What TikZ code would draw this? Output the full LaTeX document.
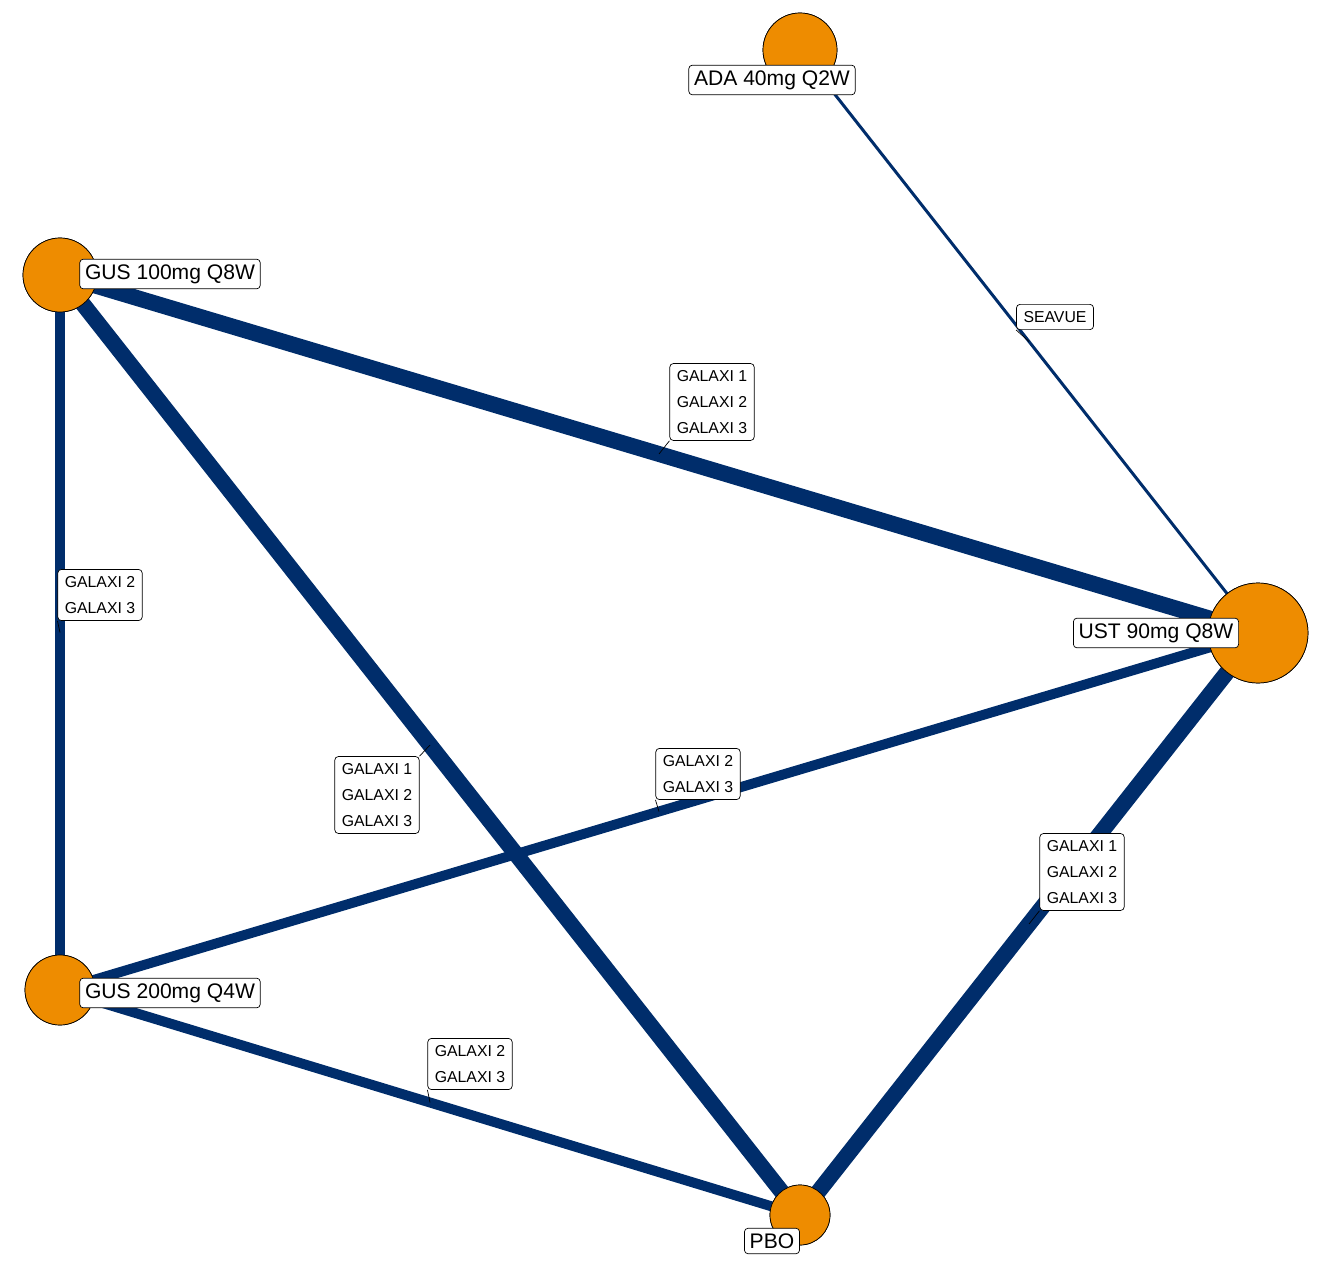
\documentclass[tikz,border=0pt]{standalone}
\usepackage{fontspec}
\setmainfont{Liberation Sans}
\usetikzlibrary{calc}
\definecolor{navy}{HTML}{002D6B}
\definecolor{drug}{HTML}{EE8C00}
\tikzset{ trt/.style = { circle % treatment
        , draw = black
        , thin
        , fill = drug
        , inner sep = 0pt
        }
        , lab/.style = { rectangle % treatment label
        , draw = black
        , fill = white
        , rounded corners = 2pt
        , font = \fontsize{12}{14}\selectfont
        , inner sep = 3pt
        }
        , study/.style = { rectangle % study label
        , draw = black
        , fill = white
        , rounded corners = 2pt
        , align = left
        , font = \fontsize{9}{14.7}\selectfont
        , inner sep = 4pt
        }
        }

\begin{document}
\begin{tikzpicture}[x=0.02cm, y=-0.02cm,
        edge_style/.style={draw=navy},
        tick_style/.style={draw=black, thin}]
        \useasboundingbox (0,0) rectangle (1320,1274);
        \begin{scope}
        \clip (0,0) rectangle (1320,1274);
        \node [trt, minimum size=74*0.02cm] (ada) at (800,50) {};
        \end{scope}
        \node [trt, minimum size=74*0.02cm] (gus1) at (60,275) {};
        \node [trt, minimum size=100*0.02cm] (ust) at (1258,633) {};
        \node [trt, minimum size=70*0.02cm] (gus2) at (60,990) {};
        \node [trt, minimum size=60*0.02cm] (pbo) at (800,1215) {};

        \draw [edge_style, line width=3pt*0.567] (ada.center) -- coordinate[pos=.5] (e1) (ust.center);
        \draw [edge_style, line width=16pt*0.567] (gus1.center) -- coordinate[pos=.5] (e2) (ust.center);
        \draw [edge_style, line width=10pt*0.567] (gus1.center) -- coordinate[pos=.5] (e3) (gus2.center);
        \draw [edge_style, line width=16pt*0.567] (gus1.center) -- coordinate[pos=.5] (e4) (pbo.center);
        \draw [edge_style, line width=10pt*0.567] (gus2.center) -- coordinate[pos=.5] (e5) (ust.center);
        \draw [edge_style, line width=16pt*0.567] (ust.center) -- coordinate[pos=.5] (e6) (pbo.center);
        \draw [edge_style, line width=10pt*0.567] (gus2.center) -- coordinate[pos=.5] (e7) (pbo.center);

        % redraw circles above edges
        \begin{scope}
        \clip (0,0) rectangle (1320,1274);
        \node [trt, minimum size=74*0.02cm] at (800,50) {};
        \end{scope}
        \node [trt, minimum size=74*0.02cm] at (60,275) {};
        \node [trt, minimum size=100*0.02cm] at (1258,633) {};
        \node [trt, minimum size=70*0.02cm] at (60,990) {};
        \node [trt, minimum size=60*0.02cm] at (800,1215) {};

        \node [study] (s1) at (1055,317) {SEAVUE};
        \node [study] (s2) at (712,402) {GALAXI 1\\GALAXI 2\\GALAXI 3};
        \node [study] (s3) at (100,595) {GALAXI 2\\GALAXI 3};
        \node [study] (s4) at (377,795) {GALAXI 1\\GALAXI 2\\GALAXI 3};
        \node [study] (s5) at (698,774) {GALAXI 2\\GALAXI 3};
        \node [study] (s6) at (1082,872) {GALAXI 1\\GALAXI 2\\GALAXI 3};
        \node [study] (s7) at (470,1064) {GALAXI 2\\GALAXI 3};
        \draw [tick_style] (e1) -- (s1.south west);
        \draw [tick_style] (e2) -- (s2.south west);
        \draw [tick_style] (e3) -- (s3.south west);
        \draw [tick_style] (e4) -- (s4.north east);
        \draw [tick_style] (e5) -- (s5.south west);
        \draw [tick_style] (e6) -- (s6.south west);
        \draw [tick_style] (e7) -- (s7.south west);

        \node [lab] (l1) at (772,80) {ADA 40mg Q2W};
        \node [lab] (l2) at (170,274) {GUS 100mg Q8W};
        \node [lab] (l3) at (1156,633) {UST 90mg Q8W};
        \node [lab] (l4) at (170,993) {GUS 200mg Q4W};
        \node [lab] (l5) at (772,1241) {PBO};
\end{tikzpicture}
\end{document}
